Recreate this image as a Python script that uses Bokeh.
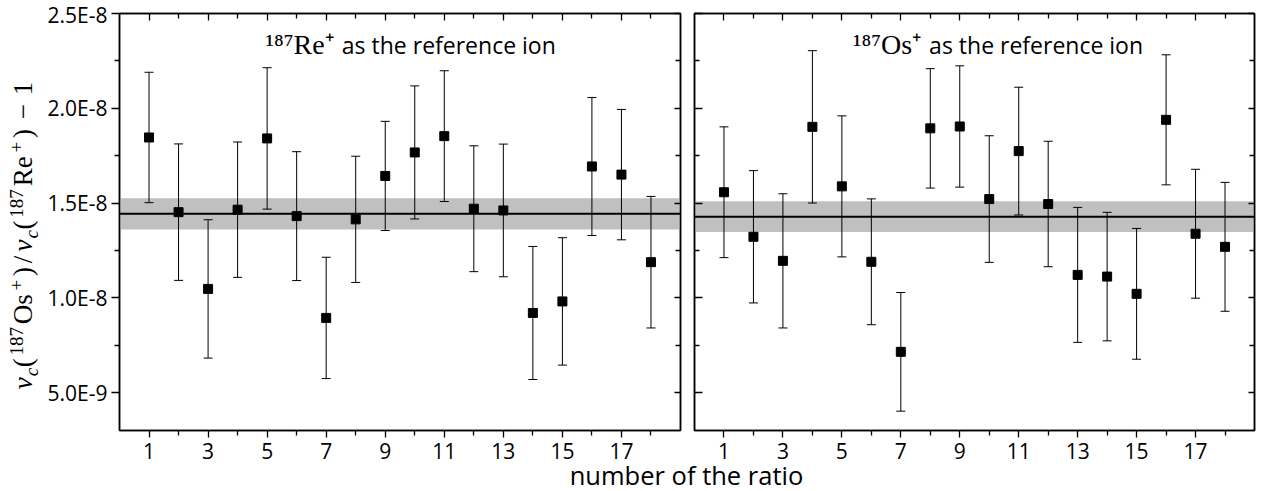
import numpy as np
from bokeh.plotting import figure
from bokeh.models import (ColumnDataSource, Whisker, TeeHead, BoxAnnotation, Span,
                          Label, LinearAxis, FixedTicker, CustomJSTickFormatter, Range1d, Div)
from bokeh.layouts import row, column
from bokeh.embed import file_html
from bokeh.resources import INLINE

# ---------------- data (values in units of 1e-8) ----------------
ratio_number = list(range(1, 19))

re_ref_value = [1.846, 1.452, 1.047, 1.465, 1.841, 1.431, 0.894, 1.414, 1.643,
                1.767, 1.853, 1.470, 1.461, 0.920, 0.981, 1.693, 1.650, 1.188]
re_ref_err = [0.344, 0.360, 0.365, 0.357, 0.373, 0.340, 0.320, 0.333, 0.288,
              0.351, 0.345, 0.332, 0.350, 0.351, 0.336, 0.364, 0.344, 0.347]
re_ref_mean = 1.443
re_ref_mean_err = 0.082

os_ref_value = [1.557, 1.322, 1.195, 1.902, 1.588, 1.190, 0.715, 1.894, 1.904,
                1.521, 1.774, 1.495, 1.121, 1.112, 1.021, 1.939, 1.338, 1.269]
os_ref_err = [0.345, 0.349, 0.354, 0.402, 0.372, 0.332, 0.313, 0.315, 0.320,
              0.334, 0.337, 0.331, 0.356, 0.339, 0.345, 0.343, 0.340, 0.340]
os_ref_mean = 1.428
os_ref_mean_err = 0.081

x_major = [1, 3, 5, 7, 9, 11, 13, 15, 17]
x_minor = [2, 4, 6, 8, 10, 12, 14, 16, 18]
y_major = [0.5, 1.0, 1.5, 2.0, 2.5]
y_minor = [0.75, 1.25, 1.75, 2.25]

titles = [("\u00b9\u2078\u2077Re\u207a", "as the reference ion"),
          ("\u00b9\u2078\u2077Os\u207a", "as the reference ion")]
x_label = "number of the ratio"
# y label  nu_c(187Os+)/nu_c(187Re+) - 1, split into math pieces:
# role: M main upright, I main italic, SUB italic subscript, SUP superscript, SP space
y_label_parts = [("\u03bd", "I"), ("c", "SUB"), ("(", "M"), ("187", "SUP"), ("Os", "M"),
                 ("+", "SUP"), (")", "M"), ("/", "M"), ("\u03bd", "I"), ("c", "SUB"),
                 ("(", "M"), ("187", "SUP"), ("Re", "M"), ("+", "SUP"), (")", "M"),
                 (" ", "SP"), ("\u2212", "M"), (" ", "SP"), ("1", "M")]

SANS = "Open Sans"
SERIF = "Liberation Serif"

FIG_H = 468
FRAME_H = 417
TOP_B = 13
BOT_B = FIG_H - FRAME_H - TOP_B

fmt = CustomJSTickFormatter(code="""
const v = tick * 1e-8;
const e = Math.floor(Math.log10(v) + 1e-9);
const m = v / Math.pow(10, e);
return m.toFixed(1) + "E" + e;
""")


def style_axis(ax, major, minor, tin, tout, labels):
    ax.ticker = FixedTicker(ticks=major, minor_ticks=minor)
    ax.axis_line_color = "black"
    ax.axis_line_width = 1.5
    ax.major_tick_line_color = "black"
    ax.minor_tick_line_color = "black"
    ax.major_tick_line_width = 1.3
    ax.minor_tick_line_width = 1.3
    ax.major_tick_in = tin[0]
    ax.major_tick_out = tout[0]
    ax.minor_tick_in = tin[1]
    ax.minor_tick_out = tout[1]
    if labels:
        ax.major_label_text_font = SANS
        ax.major_label_text_font_size = "21px"
        ax.major_label_text_color = "black"
    else:
        ax.major_label_text_font_size = "0px"
        ax.major_label_standoff = 0
        ax.major_label_text_alpha = 0


def make_panel(values, errs, mean, mean_err, title, left_labels, borders, title_x):
    p = figure(frame_width=borders[2], frame_height=FRAME_H,
               x_range=Range1d(0, 19), y_range=Range1d(0.3, 2.5),
               output_backend="svg", toolbar_location=None,
               min_border_left=borders[0], min_border_right=borders[1],
               min_border_top=TOP_B, min_border_bottom=BOT_B,
               background_fill_color="white", border_fill_color="white")
    p.outline_line_color = "black"
    p.outline_line_width = 1.5
    p.xgrid.visible = False
    p.ygrid.visible = False

    bx = p.xaxis[0]
    style_axis(bx, x_major, x_minor, (0, 0), (7, 5), True)
    bx.major_label_standoff = 5
    ly = p.yaxis[0]
    if left_labels:
        style_axis(ly, y_major, y_minor, (0, 0), (8, 5), True)
        ly.formatter = fmt
        ly.major_label_standoff = 4
    else:
        style_axis(ly, y_major, y_minor, (8, 5), (0, 0), False)
    top = LinearAxis()
    style_axis(top, x_major, x_minor, (7, 5), (0, 0), False)
    p.add_layout(top, "above")
    right = LinearAxis()
    style_axis(right, y_major, y_minor, (6, 5), (0, 0), False)
    p.add_layout(right, "right")

    band = BoxAnnotation(bottom=mean - mean_err, top=mean + mean_err,
                         fill_color="#c0c0c0", fill_alpha=1.0, line_color=None,
                         level="underlay")
    p.add_layout(band)
    line = Span(location=mean, dimension="width", line_color="black",
                line_width=2, level="underlay")
    p.add_layout(line)

    v = np.array(values)
    e = np.array(errs)
    src = ColumnDataSource(data=dict(x=ratio_number, y=values,
                                     upper=list(v + e), lower=list(v - e)))
    wh = Whisker(source=src, base="x", upper="upper", lower="lower",
                 line_color="black", line_width=1,
                 upper_head=TeeHead(size=9, line_color="black", line_width=1),
                 lower_head=TeeHead(size=9, line_color="black", line_width=1))
    p.add_layout(wh)
    p.scatter("x", "y", source=src, marker="square", size=9,
              fill_color="black", line_color="black")

    p.add_layout(Label(x=title_x[0], y=2.335, text=title[0], text_font=SERIF,
                       text_font_size="28px", text_color="black",
                       text_align="right", text_baseline="middle"))
    p.add_layout(Label(x=title_x[1], y=2.335, text=title[1], text_font=SANS,
                       text_font_size="23px", text_color="black",
                       text_align="left", text_baseline="middle"))
    return p


# ---- y-axis label panel (math-like composition) ----
LAB_W = 44
S, s = 27, 19
adv_em = {"\u03bd": .53, "c": .433, "(": .389, ")": .389, "187": 3 * .569, "Os": .778 + .394,
          "Re": .736 + .444, "+": .877, "/": .5, "\u2212": .778, "1": .5, " ": .222}
lab = figure(frame_width=LAB_W, frame_height=FIG_H, x_range=Range1d(0, LAB_W),
             y_range=Range1d(0, FIG_H), output_backend="svg", toolbar_location=None,
             x_axis_location=None, y_axis_location=None,
             min_border_left=0, min_border_right=0, min_border_top=0, min_border_bottom=0,
             background_fill_color="white", border_fill_color="white")
lab.outline_line_color = None
lab.xgrid.visible = False
lab.ygrid.visible = False
base_x = 32
pos = FIG_H - 377
for txt, role in y_label_parts:
    size = s if role in ("SUB", "SUP") else S
    w = adv_em[txt] * size
    if role == "SP":
        pos += w
        continue
    baseline = base_x + (5 if role == "SUB" else (-10 if role == "SUP" else 0))
    style = "italic" if role in ("I", "SUB") else "normal"
    lab.add_layout(Label(x=baseline - 0.34 * size, y=pos + w / 2, text=txt,
                         angle=np.pi / 2, text_font=SERIF, text_font_size=f"{size}px",
                         text_font_style=style, text_align="center",
                         text_baseline="middle", text_color="black"))
    pos += w

p1 = make_panel(re_ref_value, re_ref_err, re_ref_mean, re_ref_mean_err,
                titles[0], True, (118 - LAB_W, 7, 561), (7.25, 7.53))
p2 = make_panel(os_ref_value, os_ref_err, os_ref_mean, os_ref_mean_err,
                titles[1], False, (7, 11, 560), (7.69, 7.96))

xl = Div(text='<div style="margin-left:99px;width:1165px;margin-top:-10px;text-align:center;'
              'font-family:\'Open Sans\';font-size:25.5px;line-height:25px;color:black;'
              'white-space:nowrap;">' + x_label + '</div>', width=1264, height=491 - FIG_H)

layout = column(row(lab, p1, p2), xl)

open("out.html", "w").write(file_html(layout, INLINE))
